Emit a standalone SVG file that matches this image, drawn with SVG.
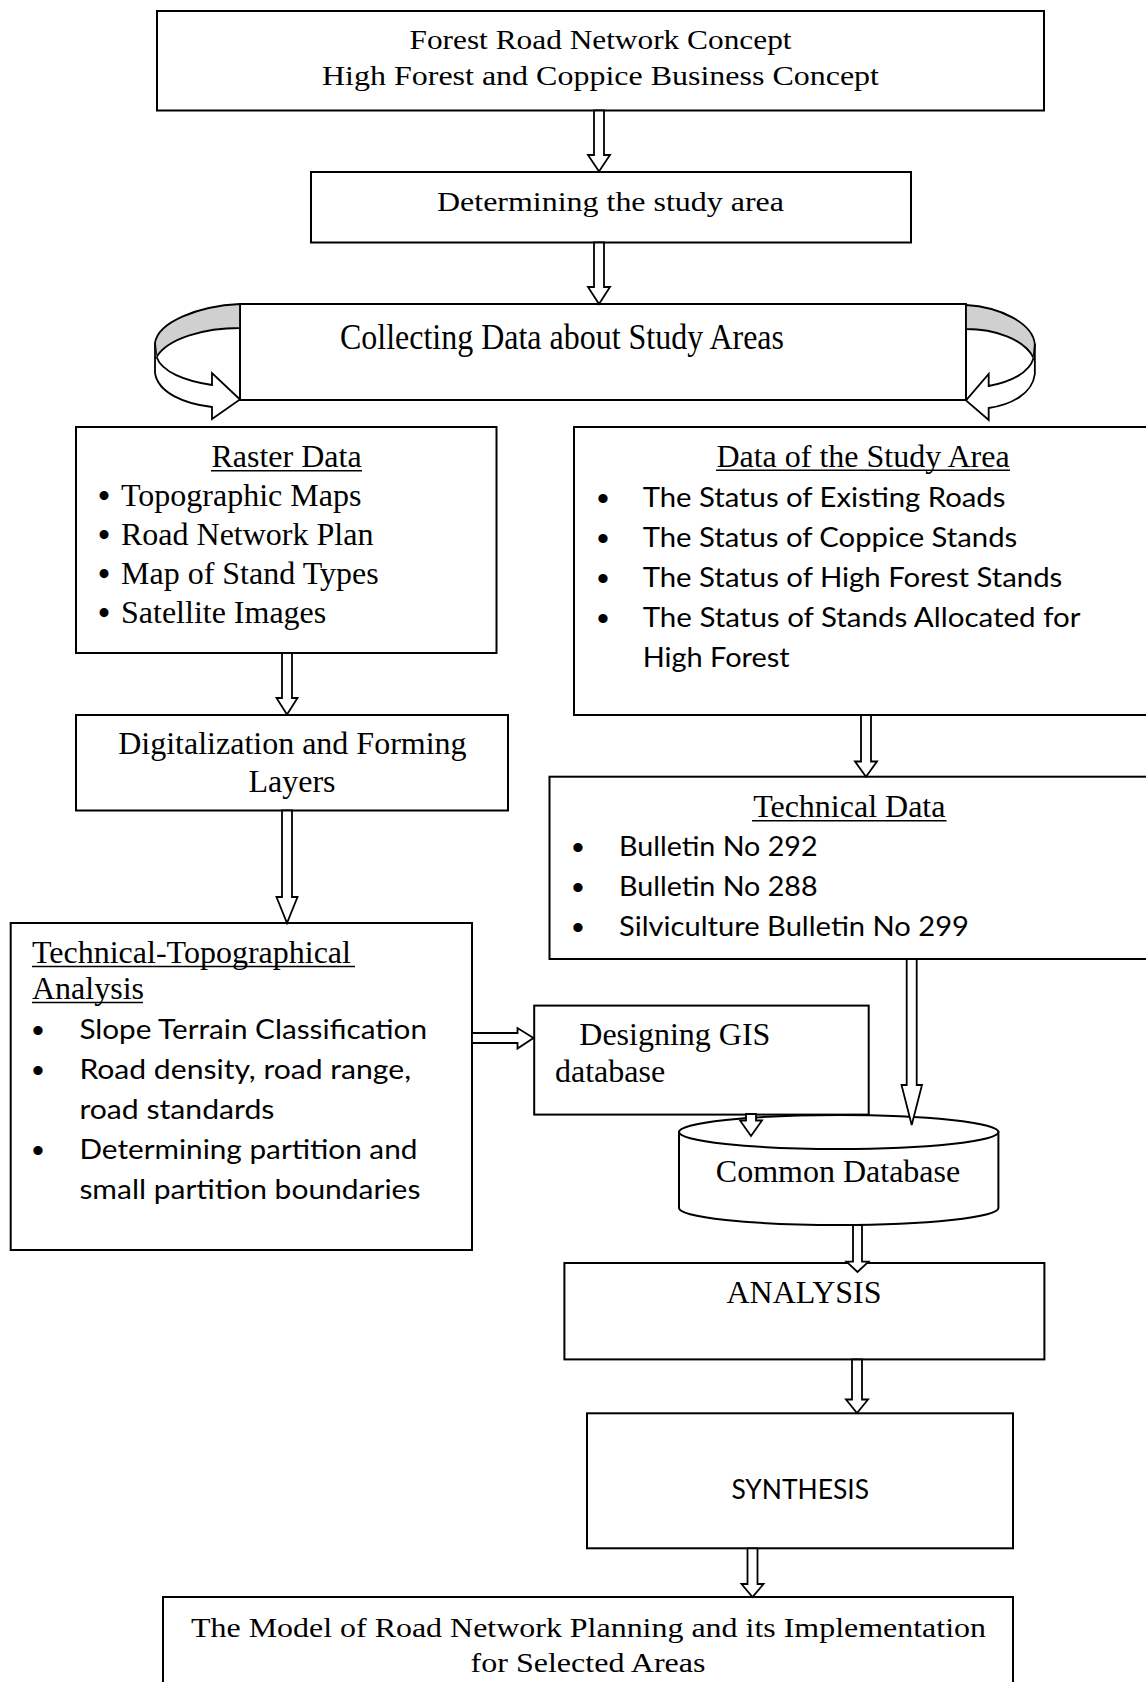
<svg xmlns="http://www.w3.org/2000/svg" width="1146" height="1682" viewBox="0 0 1146 1682">
<style>
.box{fill:#fff;stroke:#000;stroke-width:2}
.arr{fill:#fff;stroke:#000;stroke-width:1.8;stroke-linejoin:miter}
.sf{font-family:"Liberation Serif","Times New Roman",serif;font-size:32px;fill:#000}
.ss{font-family:Lato,"Open Sans",sans-serif;font-size:26px;fill:#000}
.bs{font-family:"Liberation Sans",Arial,sans-serif;font-size:34px;fill:#000}
.bt{font-family:"Liberation Serif","Times New Roman",serif;font-size:33px;font-weight:bold;fill:#000}
.ul{stroke:#000;stroke-width:1.6}
.mid{text-anchor:middle}
</style>
<rect width="1146" height="1682" fill="#fff"/>

<g id="n-concept">
<rect class="box" x="157" y="11" width="887" height="99.5"/>
<text class="sf mid" x="600.5" y="49.3" style="font-size:28px" textLength="382" lengthAdjust="spacingAndGlyphs">Forest Road Network Concept</text>
<text class="sf mid" x="600.5" y="85" style="font-size:28px" textLength="557" lengthAdjust="spacingAndGlyphs">High Forest and Coppice Business Concept</text>
</g>

<g id="n-study">
<rect class="box" x="311" y="172" width="600" height="70.5"/>
<text class="sf mid" x="610.5" y="211" style="font-size:28px" textLength="347" lengthAdjust="spacingAndGlyphs">Determining the study area</text>
</g>

<g id="n-collect">
<rect class="box" x="240" y="304" width="726" height="96"/>
<text class="sf mid" x="562" y="349" style="font-size:36px" textLength="444" lengthAdjust="spacingAndGlyphs">Collecting Data about Study Areas</text>
</g>

<g id="n-raster">
<rect class="box" x="76" y="427" width="420.5" height="226"/>
<text class="sf mid" x="286.5" y="467.3">Raster Data</text>
<line class="ul" x1="211" y1="470.8" x2="362" y2="470.8"/>
<text class="bt mid" x="104" y="507">•</text><text class="sf" x="121" y="505.7">Topographic Maps</text>
<text class="bt mid" x="104" y="546.3">•</text><text class="sf" x="121" y="545">Road Network Plan</text>
<text class="bt mid" x="104" y="584.8">•</text><text class="sf" x="121" y="583.5">Map of Stand Types</text>
<text class="bt mid" x="104" y="624">•</text><text class="sf" x="121" y="622.7">Satellite Images</text>
</g>

<g id="n-studydata">
<rect class="box" x="574" y="427" width="590" height="288"/>
<text class="sf mid" x="863" y="466.7">Data of the Study Area</text>
<line class="ul" x1="716" y1="470.2" x2="1010" y2="470.2"/>
<text class="bs mid" x="603" y="510">•</text><text class="ss" x="642.7" y="506.7" textLength="362.7" lengthAdjust="spacingAndGlyphs">The Status of Existing Roads</text>
<text class="bs mid" x="603" y="550">•</text><text class="ss" x="642.7" y="546.7" textLength="374.5" lengthAdjust="spacingAndGlyphs">The Status of Coppice Stands</text>
<text class="bs mid" x="603" y="590">•</text><text class="ss" x="642.7" y="586.7" textLength="419.6" lengthAdjust="spacingAndGlyphs">The Status of High Forest Stands</text>
<text class="bs mid" x="603" y="630">•</text><text class="ss" x="642.7" y="626.7" textLength="437.8" lengthAdjust="spacingAndGlyphs">The Status of Stands Allocated for</text>
<text class="ss" x="642.7" y="666.7" textLength="147" lengthAdjust="spacingAndGlyphs">High Forest</text>
</g>

<g id="n-digital">
<rect class="box" x="76" y="715" width="432" height="95.5"/>
<text class="sf mid" x="292.4" y="754">Digitalization and Forming</text>
<text class="sf mid" x="292" y="792">Layers</text>
</g>

<g id="n-technical">
<rect class="box" x="549.5" y="776.7" width="610" height="182.3"/>
<text class="sf mid" x="849.3" y="817.3">Technical Data</text>
<line class="ul" x1="752" y1="820.8" x2="946.5" y2="820.8"/>
<text class="bs mid" x="578" y="859.3">•</text><text class="ss" x="619" y="856" textLength="198.5" lengthAdjust="spacingAndGlyphs">Bulletin No 292</text>
<text class="bs mid" x="578" y="899.3">•</text><text class="ss" x="619" y="896" textLength="198.5" lengthAdjust="spacingAndGlyphs">Bulletin No 288</text>
<text class="bs mid" x="578" y="939.3">•</text><text class="ss" x="619" y="936" textLength="350" lengthAdjust="spacingAndGlyphs">Silviculture Bulletin No 299</text>
</g>

<g id="n-techtopo">
<rect class="box" x="10.7" y="923" width="461.3" height="327"/>
<text class="sf" x="32" y="963">Technical-Topographical</text>
<line class="ul" x1="32" y1="966.5" x2="355" y2="966.5"/>
<text class="sf" x="32" y="999">Analysis</text>
<line class="ul" x1="32" y1="1002.5" x2="143" y2="1002.5"/>
<text class="bs mid" x="38" y="1042.3">•</text><text class="ss" x="79.4" y="1039" textLength="347.6" lengthAdjust="spacingAndGlyphs">Slope Terrain Classification</text>
<text class="bs mid" x="38" y="1082.3">•</text><text class="ss" x="79.4" y="1079" textLength="331.6" lengthAdjust="spacingAndGlyphs">Road density, road range,</text>
<text class="ss" x="79.4" y="1119" textLength="195" lengthAdjust="spacingAndGlyphs">road standards</text>
<text class="bs mid" x="38" y="1162.3">•</text><text class="ss" x="79.4" y="1159" textLength="338" lengthAdjust="spacingAndGlyphs">Determining partition and</text>
<text class="ss" x="79.4" y="1199" textLength="341" lengthAdjust="spacingAndGlyphs">small partition boundaries</text>
</g>

<g id="n-gis">
<rect class="box" x="534.2" y="1005.6" width="334.5" height="109"/>
<text class="sf" x="579.3" y="1045">Designing GIS</text>
<text class="sf" x="555" y="1081.7">database</text>
</g>

<g id="n-common">
<path class="box" d="M679,1132 V1208 A159.7,17 0 0 0 998.4,1208 V1132 Z"/>
<ellipse class="box" cx="838.7" cy="1132" rx="159.7" ry="17"/>
<text class="sf mid" x="838" y="1181.7">Common Database</text>
</g>

<g id="n-analysis">
<rect class="box" x="564.4" y="1263" width="480" height="96.4"/>
<text class="sf mid" x="804" y="1303.3">ANALYSIS</text>
</g>

<g id="n-synthesis">
<rect class="box" x="587" y="1413.3" width="426" height="135"/>
<text class="ss" x="731.4" y="1499.3" textLength="137.6" lengthAdjust="spacingAndGlyphs">SYNTHESIS</text>
</g>

<g id="n-model">
<rect class="box" x="163" y="1597" width="850" height="100"/>
<text class="sf mid" x="588.5" y="1637" style="font-size:28px" textLength="795" lengthAdjust="spacingAndGlyphs">The Model of Road Network Planning and its Implementation</text>
<text class="sf mid" x="588" y="1672" style="font-size:28px" textLength="235" lengthAdjust="spacingAndGlyphs">for Selected Areas</text>
</g>

<g id="connectors">
<path class="arr" d="M594,110.5 V155 H588 L599,171.5 L610,155 H604 V110.5 Z"/>
<path class="arr" d="M594,242.5 V287 H588 L599,304 L610,287 H604 V242.5 Z"/>
<g id="curve-left">
<path d="M240,304 C198,306 158,322 155,343 L156.5,357 C168,338 205,328 240,328 Z" fill="#d0d0d0" stroke="#000" stroke-width="1.8"/>
<path d="M156.5,357 C162,372 185,381 212,385 L212,373 L240,399.5 L212,419 L212,407 C185,404 158,393 155,373 L155,343" fill="#fff" stroke="#000" stroke-width="1.8" stroke-linejoin="miter"/>
</g>
<g id="curve-right" transform="translate(1160.4,1) scale(-0.81,1)">
<path d="M240,304 C198,306 158,322 155,343 L156.5,357 C168,338 205,328 240,328 Z" fill="#d0d0d0" stroke="#000" stroke-width="1.8" vector-effect="non-scaling-stroke"/>
<path d="M156.5,357 C162,372 185,381 212,385 L212,373 L240,399.5 L212,419 L212,407 C185,404 158,393 155,373 L155,343" fill="#fff" stroke="#000" stroke-width="1.8" vector-effect="non-scaling-stroke"/>
</g>
<path class="arr" d="M282,653 V698 H276.5 L287,714.5 L297.5,698 H292 V653 Z"/>
<path class="arr" d="M282,810.5 V897 H276.5 L287,923 L297.5,897 H292 V810.5 Z"/>
<path class="arr" d="M861,715 V761.5 H855 L866,776.7 L877,761.5 H871 V715 Z"/>
<path class="arr" d="M906.7,959 V1085 H901.5 L911.7,1125 L922,1085 H916.7 V959 Z"/>
<path class="arr" d="M746,1114 V1120.5 H740 L751,1136 L762,1120.5 H756 V1114 Z"/>
<path class="arr" d="M853,1225 V1261.7 H846.5 L857.5,1272 L868.5,1261.7 H862 V1225 Z"/>
<path class="arr" d="M852,1359.5 V1399.5 H846 L857,1413 L868,1399.5 H862 V1359.5 Z"/>
<path class="arr" d="M747.5,1548.3 V1584 H741.5 L752.5,1597 L763.5,1584 H757.5 V1548.3 Z"/>
<path class="arr" d="M472,1033 H517.5 V1028 L533.5,1038 L517.5,1048.5 V1043 H472 Z"/>
</g>
</svg>
